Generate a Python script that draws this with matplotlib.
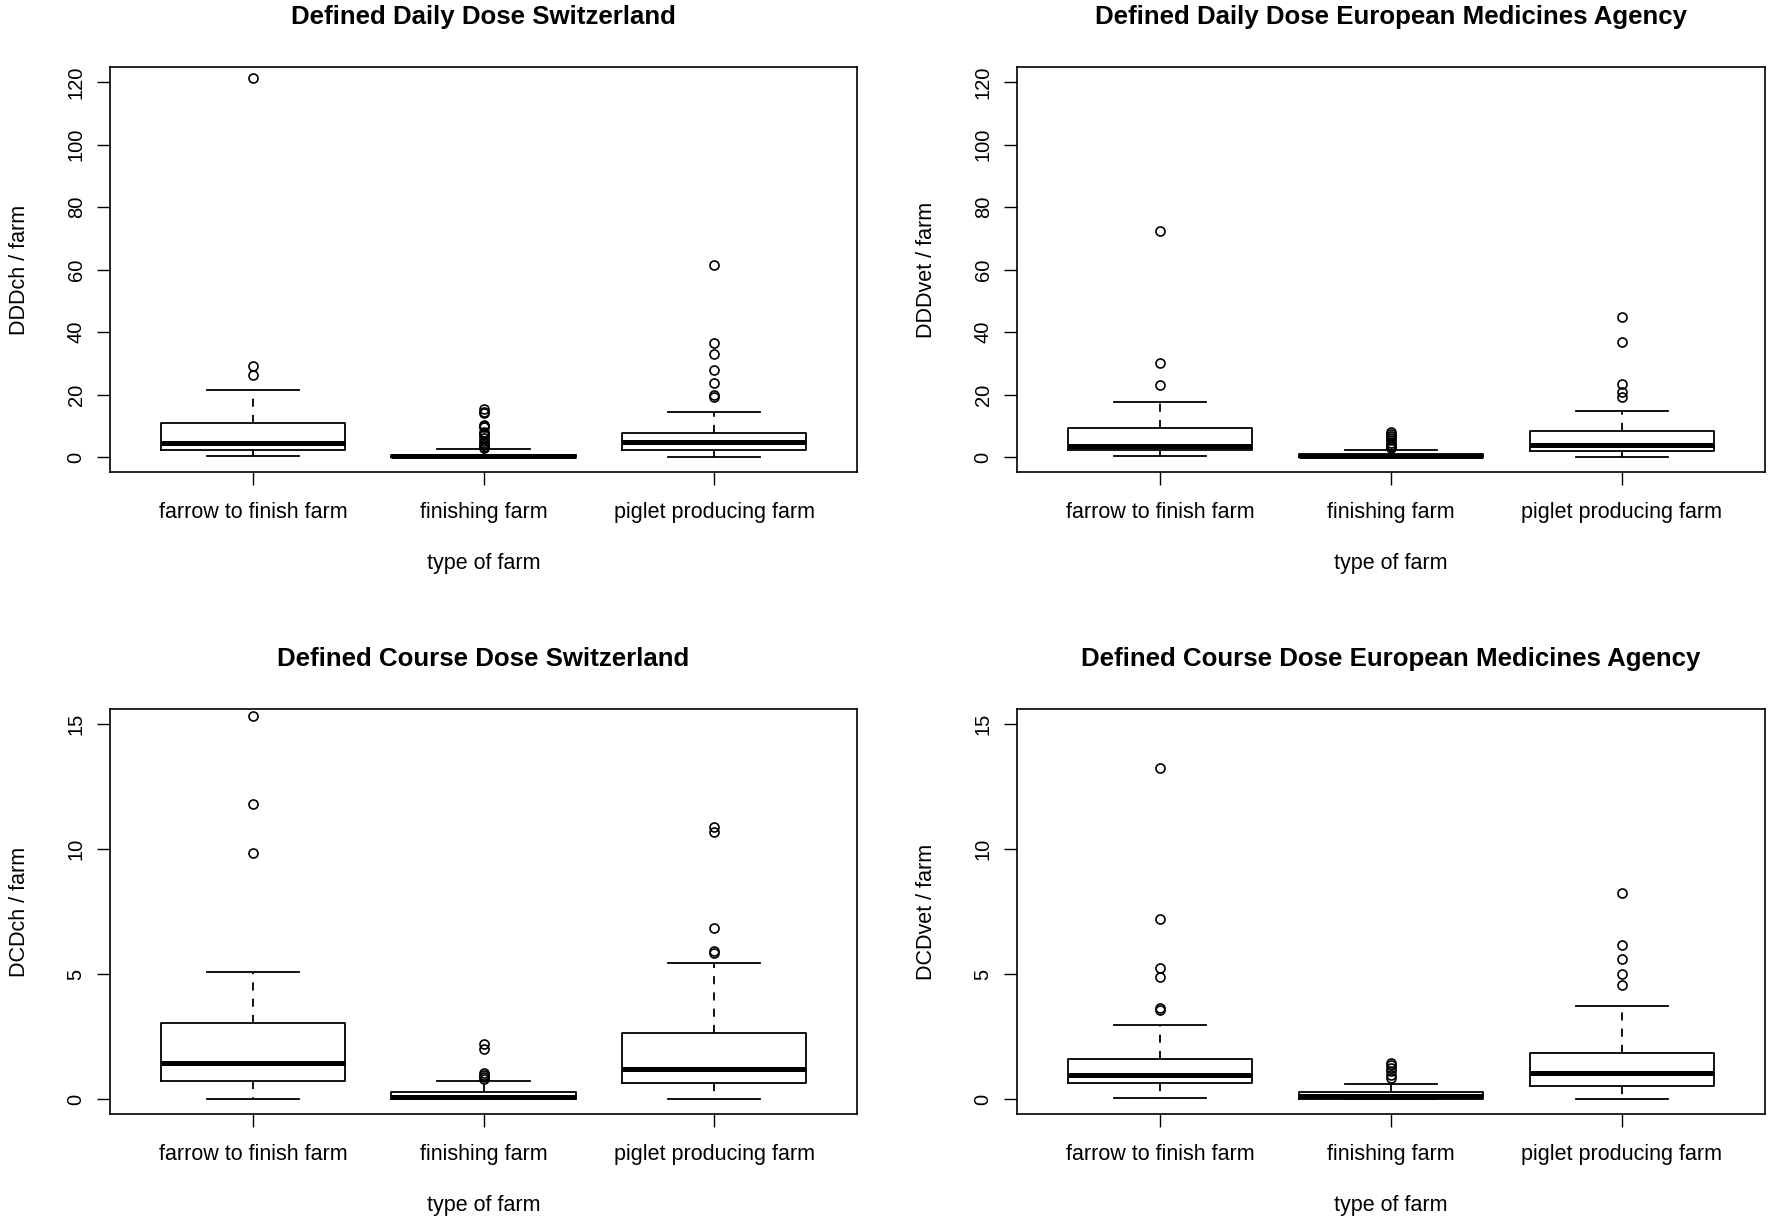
import matplotlib
matplotlib.use("Agg")
import matplotlib.pyplot as plt

plt.rcParams["font.family"] = ["Liberation Sans", "DejaVu Sans"]

FARM_TYPES = ["farrow to finish farm", "finishing farm", "piglet producing farm"]

TITLES = ["Defined Daily Dose Switzerland",
          "Defined Daily Dose European Medicines Agency",
          "Defined Course Dose Switzerland",
          "Defined Course Dose European Medicines Agency"]
YLABELS = ["DDDch / farm", "DDDvet / farm", "DCDch / farm", "DCDvet / farm"]

# per panel, per farm type: lower whisker, Q1, median, Q3, upper whisker
DDDCH_STATS = [(0.35, 2.2, 4.4, 11.0, 21.6),
               (0.0, 0.05, 0.25, 0.8, 2.5),
               (0.0, 2.1, 4.9, 7.7, 14.4)]
DDDCH_OUT = [[121.2, 29.0, 26.2],
             [15.3, 14.4, 14.0, 10.2, 9.8, 9.5, 8.1, 7.5, 7.0, 6.0, 5.2,
              4.6, 3.8, 3.3, 2.9],
             [61.5, 36.6, 33.1, 27.8, 23.6, 20.0, 19.2]]

DDDVET_STATS = [(0.3, 2.2, 3.5, 9.4, 17.6),
                (0.0, 0.05, 0.25, 0.9, 2.4),
                (0.0, 1.8, 3.8, 8.3, 14.8)]
DDDVET_OUT = [[72.3, 30.0, 23.0],
              [7.9, 7.3, 6.6, 6.0, 5.3, 4.6, 3.9, 3.3, 2.9],
              [44.7, 36.7, 23.4, 20.9, 19.3]]

DCDCH_STATS = [(0.01, 0.71, 1.43, 3.04, 5.07),
               (0.0, 0.02, 0.09, 0.29, 0.71),
               (0.0, 0.64, 1.21, 2.65, 5.43)]
DCDCH_OUT = [[15.33, 11.81, 9.83],
             [2.19, 2.0, 1.03, 0.95, 0.88, 0.8],
             [10.87, 10.69, 6.85, 5.93, 5.85]]

DCDVET_STATS = [(0.06, 0.64, 0.98, 1.59, 2.97),
                (0.0, 0.02, 0.11, 0.28, 0.62),
                (0.0, 0.52, 1.06, 1.84, 3.73)]
DCDVET_OUT = [[13.25, 7.19, 5.23, 4.89, 3.64, 3.58],
              [1.45, 1.35, 1.25, 1.12, 0.95, 0.85],
              [8.25, 6.17, 5.61, 5.0, 4.58]]

DAILY_TICKS = [0, 20, 40, 60, 80, 100, 120]
COURSE_TICKS = [0, 5, 10, 15]

W, H = 1772, 1226
DPI = 100

# axes boxes in pixels: (left, top, right, bottom)
BOXES = [(110, 67, 857, 472), (1017, 67, 1765, 472),
         (110, 709, 857, 1114), (1017, 709, 1765, 1114)]


def draw_panel(fig, box, title, ylabel, stats, outliers, yticks, ylim):
    l, t, r, b = box
    ax = fig.add_axes([l / W, 1 - b / H, (r - l) / W, (b - t) / H])
    bxp_stats = []
    for (lo, q1, med, q3, hi), fl in zip(stats, outliers):
        bxp_stats.append(dict(whislo=lo, q1=q1, med=med, q3=q3,
                              whishi=hi, fliers=fl))
    ax.bxp(bxp_stats, positions=[1, 2, 3], widths=0.8, capwidths=0.4,
           boxprops=dict(color="black", lw=1.3),
           whiskerprops=dict(color="black", lw=1.3,
                             linestyle=(0, (4.5, 4.5))),
           capprops=dict(color="black", lw=1.3),
           medianprops=dict(color="black", lw=3.6, solid_capstyle="butt"),
           flierprops=dict(marker="o", markerfacecolor="none",
                           markeredgecolor="black", markersize=6.5,
                           markeredgewidth=1.2, linestyle="none"))
    ax.set_xlim(0.38, 3.62)
    ax.set_ylim(*ylim)
    ax.set_xticks([1, 2, 3])
    ax.set_xticklabels(FARM_TYPES, fontsize=15.5)
    ax.set_yticks(yticks)
    ax.set_yticklabels([str(v) for v in yticks], fontsize=14.5, rotation=90,
                       va="center")
    ax.tick_params(direction="out", length=9.5, width=1.0)
    ax.tick_params(axis="x", pad=12)
    ax.tick_params(axis="y", pad=8)
    for sp in ax.spines.values():
        sp.set_linewidth(1.2)
    hgt = b - t
    wid = r - l
    ax.text(0.5, 1 + 50 / hgt, title, transform=ax.transAxes,
            ha="center", va="center", fontsize=18.6, fontweight="bold")
    ax.text(0.5, -(563 - 472) / hgt, "type of farm", transform=ax.transAxes,
            ha="center", va="center", fontsize=15.5)
    ax.text(-90 / wid, 0.5, ylabel, transform=ax.transAxes, rotation=90,
            ha="center", va="center", fontsize=15.5)
    return ax


def main():
    fig = plt.figure(figsize=(W / DPI, H / DPI), dpi=DPI)
    daily_lim = (-4.8, 124.8)
    course_lim = (-0.6, 15.6)
    draw_panel(fig, BOXES[0], TITLES[0], YLABELS[0], DDDCH_STATS,
               DDDCH_OUT, DAILY_TICKS, daily_lim)
    draw_panel(fig, BOXES[1], TITLES[1], YLABELS[1], DDDVET_STATS,
               DDDVET_OUT, DAILY_TICKS, daily_lim)
    draw_panel(fig, BOXES[2], TITLES[2], YLABELS[2], DCDCH_STATS,
               DCDCH_OUT, COURSE_TICKS, course_lim)
    draw_panel(fig, BOXES[3], TITLES[3], YLABELS[3], DCDVET_STATS,
               DCDVET_OUT, COURSE_TICKS, course_lim)
    fig.savefig("out.png", dpi=DPI)


if __name__ == "__main__":
    main()
